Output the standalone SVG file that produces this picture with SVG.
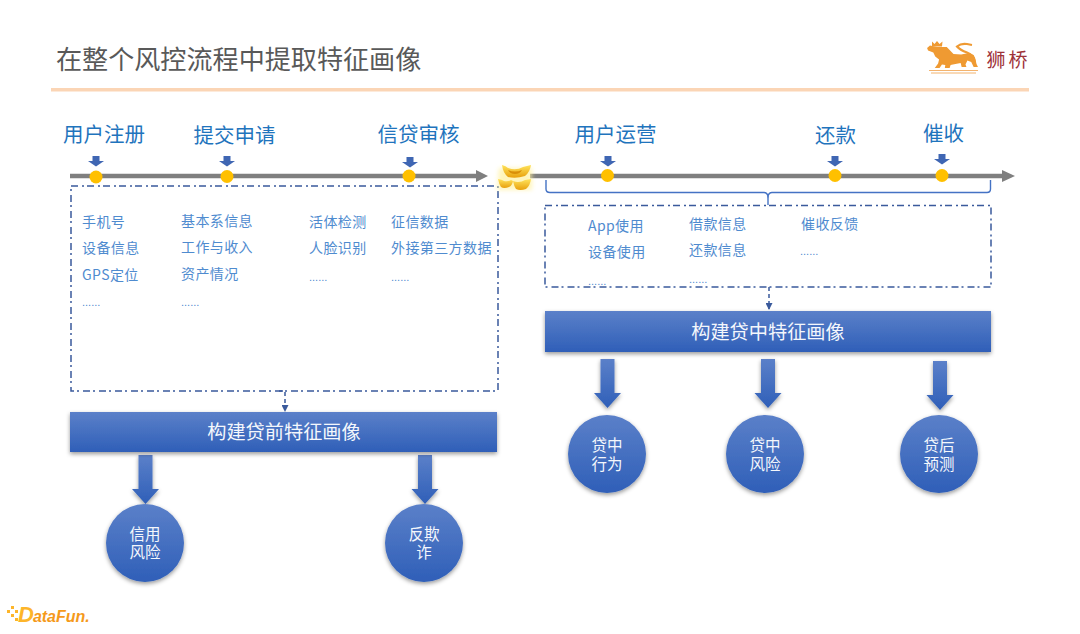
<svg xmlns="http://www.w3.org/2000/svg" width="1080" height="634" viewBox="0 0 1080 634">
<style>
text{font-family:"Noto Sans CJK SC","Liberation Sans",sans-serif}
.title{font-size:26.100px;fill:#595959}
.stage{font-size:20.500px;fill:#1f74bd;text-anchor:middle}
.item{font-size:14px;letter-spacing:.4px;fill:#4f8bcf}
.more{font-size:11px;fill:#4f8bcf;font-family:"Liberation Sans",sans-serif}
.bartext{font-size:19.200px;fill:#f4f7fc;text-anchor:middle}
.circtext{font-size:15.500px;fill:#f4f7fc;text-anchor:middle}
.dash{fill:none;stroke:#3a5a9c;stroke-width:1.500;stroke-dasharray:7 4 2 3}
.link{fill:none;stroke:#3a5a9c;stroke-width:1.500;stroke-dasharray:4 3}
.line{stroke:#7f7f7f;stroke-width:4.700;fill:none}
.dot{fill:#ffc000}
.fill{fill:url(#g)}
.small{fill:#3f66b3}
.brk{fill:none;stroke:#4472c4;stroke-width:1.400}
</style>
<defs>
<linearGradient id="g" x1="0" y1="0" x2="0" y2="1"><stop offset="0" stop-color="#5b80c9"/><stop offset="1" stop-color="#2f5fb8"/></linearGradient>
<linearGradient id="gold" x1="0" y1="0" x2="0" y2="1"><stop offset="0" stop-color="#ffe45c"/><stop offset="1" stop-color="#e8a00c"/></linearGradient>
<filter id="s" x="-20%" y="-20%" width="140%" height="150%"><feDropShadow dx="0" dy="2" stdDeviation="2" flood-color="#000" flood-opacity=".4"/></filter>
<filter id="blur" x="-30%" y="-30%" width="160%" height="160%"><feGaussianBlur stdDeviation="2"/></filter>
<marker id="tri" markerWidth="7" markerHeight="7" refX="6" refY="3.500" orient="auto" markerUnits="userSpaceOnUse"><path d="M0 0L7 3.500L0 7Z" fill="#3a5a9c"/></marker>
<path id="down" d="M-3.500-5H3.500V0H8L0 5.500L-8 0H-3.500Z"/>
<path id="big" d="M-7-24H7V10H13.500L0 25L-13.500 10H-7Z"/>
</defs>
<rect width="1080" height="634" fill="#fff"/>
<text class="title" x="56" y="69">在整个风控流程中提取特征画像</text>
<rect x="51" y="88" width="978" height="3.500" fill="#fbd5b5"/>
<g id="logo">
<path d="M932 41.500l2.500 2.500 2.500-3 2.500 3 3-2.500-.5 5h-10z" fill="#ef9a32"/>
<path transform="translate(5 0) scale(.96 1) translate(38 0)" d="M933 47h10l4 4 3 3 8 .5 8-1.500 5 2 1.500 3 1.500 6 1.500 3h-4.500l-2.500-5-4-1.500-2 4 1 2.500h-5l-1-4-5.500 1-5 1-1 3h-5l.5-3-3.500-.5-2.500 3.500h-5l3.500-4.500 1-4-4-3-2-4-5.500-2-1-2.500 3-2.500z" fill="#ef9a32"/>
<path d="M975 62q-1-7-8-9.500q-7-2.500-10-6q4-3.500 10-2.500l5 1" fill="none" stroke="#ef9a32" stroke-width="2.200"/>
<path d="M929 70.500h49M931 73h45" stroke="#f3b36e" stroke-width="1.100"/>
<text x="986.500" y="66.500" font-size="19" letter-spacing="3" fill="#9e3238">狮桥</text>
</g>
<g id="connectors">
<path class="line" d="M70 176H478"/><path d="M476 170L488 176L476 182Z" fill="#7f7f7f"/>
<path class="line" d="M530 176H1004"/><path d="M1002 170L1015 176L1002 182Z" fill="#7f7f7f"/>
<path class="brk" d="M546 180V189Q546 192.500 550 192.500H764Q767 192.500 768 196Q769 192.500 772 192.500H987Q990.500 192.500 990.500 189V180"/>
<path class="brk" d="M768 196V205"/>
<path class="dash" d="M71 186H498V391H71Z"/>
<path class="dash" d="M545 205.500H991V287H545Z"/>
<path class="link" d="M279 391H285V411" marker-end="url(#tri)"/>
<path class="link" d="M769 287V309" marker-end="url(#tri)"/>
<use class="small" href="#down" x="96" y="161"/>
<use class="small" href="#down" x="227" y="161"/>
<use class="small" href="#down" x="410" y="162"/>
<use class="small" href="#down" x="608" y="161"/>
<use class="small" href="#down" x="835" y="161"/>
<use class="small" href="#down" x="942" y="159"/>
<use class="fill" href="#big" x="145.500" y="479" filter="url(#s)"/>
<use class="fill" href="#big" x="425" y="479" filter="url(#s)"/>
<use class="fill" href="#big" x="607.500" y="383" filter="url(#s)"/>
<use class="fill" href="#big" x="768" y="383" filter="url(#s)"/>
<use class="fill" href="#big" x="940" y="385" filter="url(#s)"/>
</g>
<g id="ingot">
<path d="M499 168h33v22h-35z" fill="#fff2a0" opacity=".7" filter="url(#blur)"/>
<path d="M502 165q4 1 6 3q8 3 15-1q4-1 8-2q-1 7-6 11q-9 3-17 1q-5-4-6-12z" fill="url(#gold)"/>
<path d="M508 170q7 3 14 0q-2 4-7 4q-5 0-7-4z" fill="#d98f08"/>
<path d="M498 179q4 .500 6 2q4 1 7-1l2 1q-1 5-4 6q-5 2-8 0q-2-3-3-8z" fill="url(#gold)"/>
<path d="M513 181q3 1 5 1q4 0 7-2l6-1q-1 7-5 10q-6 2-10 0q-2-3-3-8z" fill="url(#gold)"/>
</g>
<g id="timeline-dots">
<circle class="dot" cx="96" cy="177" r="6.500"/>
<circle class="dot" cx="227" cy="176.500" r="6.500"/>
<circle class="dot" cx="409" cy="176" r="6.500"/>
<circle class="dot" cx="607.500" cy="175.500" r="6.500"/>
<circle class="dot" cx="835" cy="175.500" r="6.500"/>
<circle class="dot" cx="942" cy="175.500" r="6.500"/>
</g>
<g id="stages">
<text class="stage" x="104" y="142">用户注册</text>
<text class="stage" x="234.500" y="143">提交申请</text>
<text class="stage" x="418.500" y="142">信贷审核</text>
<text class="stage" x="615.500" y="142">用户运营</text>
<text class="stage" x="835.500" y="143">还款</text>
<text class="stage" x="943.500" y="141">催收</text>
</g>
<g id="left-items">
<text class="item" x="82" y="227">手机号</text>
<text class="item" x="82" y="253">设备信息</text>
<text class="item" x="82" y="280">GPS定位</text>
<text class="more" x="82" y="306">......</text>
<text class="item" x="181" y="226">基本系信息</text>
<text class="item" x="181" y="252">工作与收入</text>
<text class="item" x="181" y="279">资产情况</text>
<text class="more" x="181" y="306">......</text>
<text class="item" x="309" y="227">活体检测</text>
<text class="item" x="309" y="253">人脸识别</text>
<text class="more" x="309" y="281">......</text>
<text class="item" x="391" y="227">征信数据</text>
<text class="item" x="391" y="253">外接第三方数据</text>
<text class="more" x="391" y="281">......</text>
</g>
<g id="right-items">
<text class="item" x="588" y="231">App使用</text>
<text class="item" x="588" y="257">设备使用</text>
<text class="more" x="588" y="285">......</text>
<text class="item" x="689" y="229">借款信息</text>
<text class="item" x="689" y="255">还款信息</text>
<text class="more" x="689" y="283">......</text>
<text class="item" x="801" y="229">催收反馈</text>
<text class="more" x="800" y="255">......</text>
</g>
<g id="bar-pre"><rect class="fill" x="70" y="412" width="427" height="40" filter="url(#s)"/><text class="bartext" x="284" y="439">构建贷前特征画像</text></g>
<g id="bar-mid"><rect class="fill" x="545" y="311" width="446" height="41" filter="url(#s)"/><text class="bartext" x="768" y="339">构建贷中特征画像</text></g>
<g id="c1"><circle class="fill" cx="145" cy="543" r="39" filter="url(#s)"/><text class="circtext"><tspan x="145" y="540">信用</tspan><tspan x="145" y="558">风险</tspan></text></g>
<g id="c2"><circle class="fill" cx="424" cy="543" r="39" filter="url(#s)"/><text class="circtext"><tspan x="424" y="540">反欺</tspan><tspan x="424" y="558">诈</tspan></text></g>
<g id="c3"><circle class="fill" cx="607" cy="454" r="39" filter="url(#s)"/><text class="circtext"><tspan x="607" y="451">贷中</tspan><tspan x="607" y="470">行为</tspan></text></g>
<g id="c4"><circle class="fill" cx="765" cy="454" r="39" filter="url(#s)"/><text class="circtext"><tspan x="765" y="451">贷中</tspan><tspan x="765" y="470">风险</tspan></text></g>
<g id="c5"><circle class="fill" cx="939" cy="454" r="39" filter="url(#s)"/><text class="circtext"><tspan x="939" y="451">贷后</tspan><tspan x="939" y="470">预测</tspan></text></g>
<g id="datafun">
<g fill="#fdb52a"><rect x="7" y="610" width="3" height="3"/><rect x="11" y="606" width="3" height="3"/><rect x="11" y="614" width="3" height="3"/><rect x="15" y="610" width="3" height="3"/><rect x="15" y="618" width="3" height="3"/></g>
<text x="18" y="622" font-weight="700" font-style="italic" style="font-family:'Liberation Sans',sans-serif"><tspan font-size="22" fill="#fdb52a">D</tspan><tspan font-size="16" dx="-1" fill="#f59a1b">ataFun.</tspan></text>
</g>
</svg>
